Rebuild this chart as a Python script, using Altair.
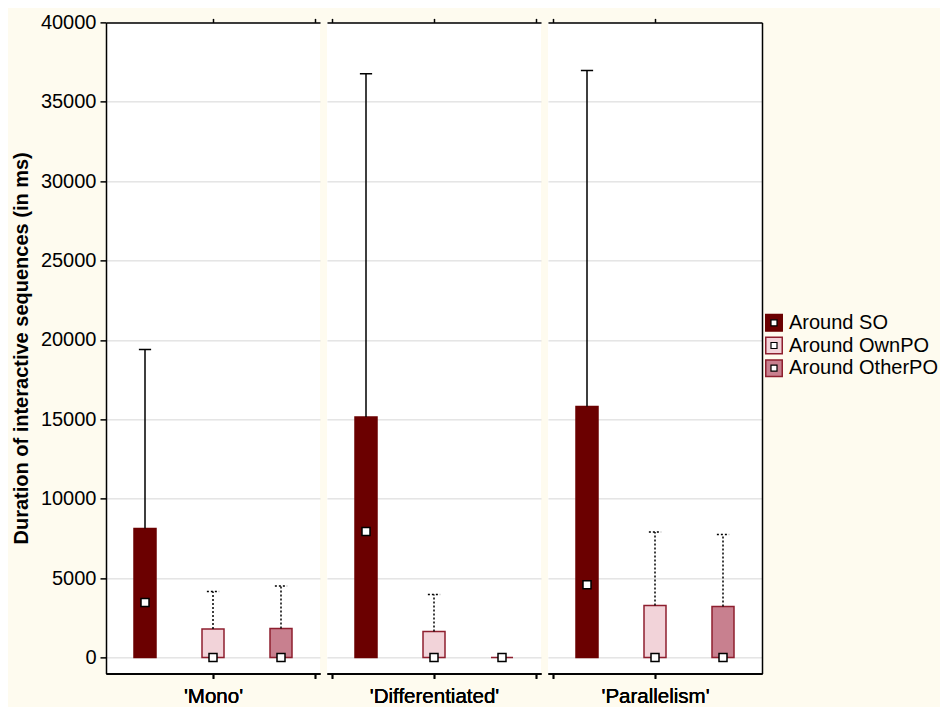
import altair as alt
import pandas as pd

# ---- data ----
panels = ["'Mono'", "'Differentiated'", "'Parallelism'"]
groups = ["Around SO", "Around OwnPO", "Around OtherPO"]
positions = [0.5, 1.5, 2.5]
box_top = [[8130, 1790, 1830], [15140, 1640, 0], [15815, 3280, 3210]]
whisker_top = [[19400, 4160, 4500], [36770, 3970, 0], [36975, 7900, 7750]]
marker_val = [[3470, 0, 0], [7940, 0, 0], [4580, 0, 0]]
y_ticks = [0, 5000, 10000, 15000, 20000, 25000, 30000, 35000, 40000]
y_domain = [-1000, 40000]

fills = ["#6B0000", "#F2D3D9", "#C8808F"]
strokes = ["#6B0000", "#8E1F2F", "#8E1F2F"]
dashes = [[1, 0], [2, 2], [2, 2]]
bg = "#FEFBEF"

rows = []
for i, p in enumerate(panels):
    for j, g in enumerate(groups):
        rows.append({"panel": p, "group": g, "pos": positions[j], "lo": 0,
                     "box": box_top[i][j], "whisk": whisker_top[i][j],
                     "mean": marker_val[i][j]})
df = pd.DataFrame(rows)

ysc = alt.Scale(domain=y_domain, nice=False, zero=False)
xsc = alt.Scale(domain=[0, 3], nice=False, zero=False)
fill_enc = alt.Fill("group:N", scale=alt.Scale(domain=groups, range=fills), legend=None)
stroke_enc = alt.Stroke("group:N", scale=alt.Scale(domain=groups, range=strokes), legend=None)
dash_enc = alt.StrokeDash("group:N", scale=alt.Scale(domain=groups, range=dashes), legend=None)


def panel(i):
    d = df[df.panel == panels[i]]
    base = alt.Chart(d)
    xt = [[1.5, 3], [0, 1.5, 3], [0, 1.5]][i]
    common = dict(values=y_ticks, grid=True, gridColor="#D6D6D6", gridWidth=1,
                  domainColor="black", domainWidth=1.5, tickColor="black", tickWidth=1.5)
    if i == 0:
        yaxis = alt.Axis(orient="left", domain=True, ticks=True, tickSize=6, labels=True,
                         format="d", labelFontSize=20, labelPadding=4, labelColor="black",
                         title="Duration of interactive sequences (in ms)",
                         titleFontSize=20, titleFontWeight="bold", titleColor="black",
                         titlePadding=9, **common)
    elif i == 1:
        yaxis = alt.Axis(orient="left", domain=False, ticks=False, labels=False,
                         title=None, **common)
    else:
        yaxis = alt.Axis(orient="right", domain=True, ticks=False,
                         labels=False, title=None, **common)
    xbottom = alt.Axis(orient="bottom", values=xt, domain=True, domainColor="black",
                       domainWidth=1.5, ticks=True, tickColor="black", tickWidth=1.5,
                       tickSize=5, labels=False, grid=False, title=panels[i],
                       titleFontSize=20.5, titleFontWeight="normal", titleColor="black",
                       titlePadding=7)
    xtop = alt.Axis(orient="top", values=xt, domain=True, domainColor="black",
                    domainWidth=1.5, ticks=True, tickColor="black", tickWidth=1.5,
                    tickSize=4, labels=False, grid=False, title=None)

    box = base.mark_bar(size=22, strokeWidth=1.5).encode(
        x=alt.X("pos:Q", scale=xsc, axis=xbottom),
        y=alt.Y("lo:Q", scale=ysc, axis=yaxis),
        y2="box:Q",
        fill=fill_enc, stroke=stroke_enc,
    )
    wb = base.transform_filter("datum.whisk > datum.box")
    whisker = wb.mark_rule(strokeWidth=1.5, color="black").encode(
        x=alt.X("pos:Q", scale=xsc, axis=xbottom),
        y=alt.Y("box:Q", scale=ysc, axis=yaxis),
        y2="whisk:Q",
        strokeDash=dash_enc,
    )
    cap = wb.mark_point(shape="M-1,0L1,0", size=150, strokeWidth=1.5, color="black",
                        filled=False, opacity=1).encode(
        x=alt.X("pos:Q", scale=xsc, axis=xbottom),
        y=alt.Y("whisk:Q", scale=ysc, axis=yaxis),
        strokeDash=dash_enc,
    )
    marker = base.mark_square(size=64, fill="white", stroke="black", strokeWidth=1.5,
                              opacity=1).encode(
        x=alt.X("pos:Q", scale=xsc, axis=xtop),
        y=alt.Y("mean:Q", scale=ysc, axis=yaxis),
    )
    return alt.layer(box, whisker, cap, marker).properties(
        width=214, height=651, view=alt.ViewBackground(fill="white"))


leg = pd.DataFrame({"group": groups})
lbase = alt.Chart(leg).encode(
    y=alt.Y("group:N", sort=groups, axis=None,
            scale=alt.Scale(type="point", padding=0.5)))
sq = lbase.mark_square(size=272, strokeWidth=1.5, opacity=1, yOffset=-19).encode(
    x=alt.value(10), fill=fill_enc, stroke=stroke_enc)
inner = lbase.mark_square(size=36, fill="white", stroke="black", strokeWidth=1.2,
                          opacity=1, yOffset=-19).encode(x=alt.value(10))
txt = lbase.mark_text(align="left", baseline="middle", fontSize=20, color="black",
                      yOffset=-19).encode(x=alt.value(25), text="group:N")
legend = alt.layer(sq, inner, txt).properties(width=176, height=68)

chart = alt.hconcat(
    alt.hconcat(panel(0), panel(1), panel(2), spacing=7),
    legend, spacing=0, center=True,
).properties(
    background=bg,
    padding={"left": 3, "top": 4, "right": 0, "bottom": 0},
).configure(font="Liberation Sans").configure_view(strokeWidth=0)

chart.save("out.html", embed_options={"renderer": "svg", "actions": False})
